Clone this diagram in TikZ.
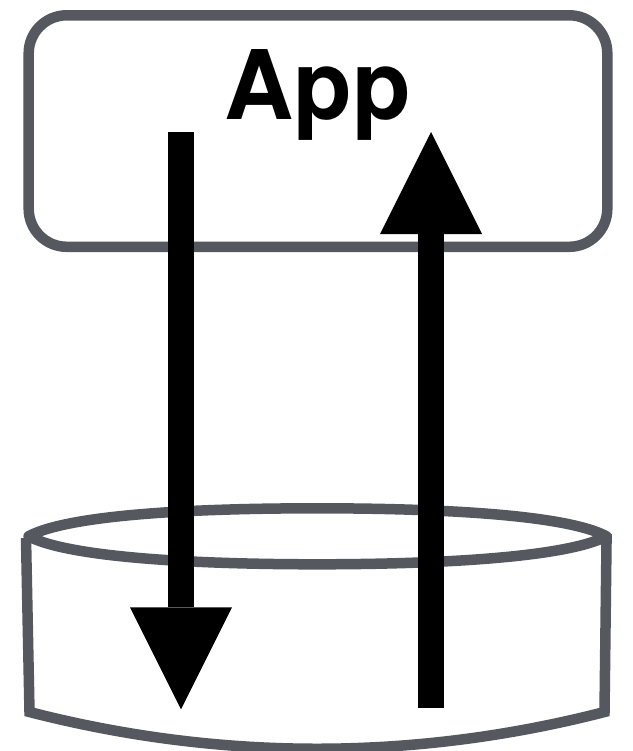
\documentclass[tikz,border=0pt]{standalone}
\usepackage{fontspec}
\setmainfont{TeX Gyre Heros}
\usetikzlibrary{arrows.meta}
\definecolor{edgegray}{HTML}{55595F}
\tikzset{
  shapeline/.style={draw=edgegray,line width=10.5pt},
  flow/.style={draw=black,line width=26.6pt,-{Triangle[length=102pt,width=102pt,line width=0pt]}},
}
\begin{document}
\begin{tikzpicture}[x=1pt,y=-1pt]
\useasboundingbox (0,0) rectangle (632,751);
\fill[white] (0,0) rectangle (632,751);
\node[shapeline,rounded corners=38pt,minimum width=578.6pt,minimum height=231.5pt,anchor=north west,inner sep=0pt,outer sep=0pt] (app) at (28.7,15.3) {};
\node[font=\bfseries\fontsize{96}{96}\selectfont,anchor=base,inner sep=0pt] (applabel) at (317.5,119.3) {App};
\coordinate (ctl) at (28.5,536.3);
\coordinate (ctop) at (317,508.3);
\coordinate (ctr) at (606.5,536.3);
\coordinate (cbot) at (317,564.3);
\coordinate (wtl) at (26,538);
\coordinate (wtr) at (606.6,534);
\coordinate (cbl) at (29.5,712);
\coordinate (cbr) at (604.5,712);
\draw[shapeline,line join=round] (ctl) .. controls (70,514) and (200,508.3) .. (ctop) .. controls (434,508.3) and (565,514) .. (ctr) .. controls (565,558) and (434,564.3) .. (cbot) .. controls (200,564.3) and (70,558) .. cycle;
\draw[shapeline,line join=miter] (wtl) -- (cbl) .. controls (220,761) and (414,761) .. (cbr) -- (wtr);
\coordinate (a1s) at (181,132);
\coordinate (a1e) at (181,709.3);
\coordinate (a2s) at (431,708.3);
\coordinate (a2e) at (431,132);
\draw[flow] (a1s) -- (a1e);
\draw[flow] (a2s) -- (a2e);
\end{tikzpicture}
\end{document}
